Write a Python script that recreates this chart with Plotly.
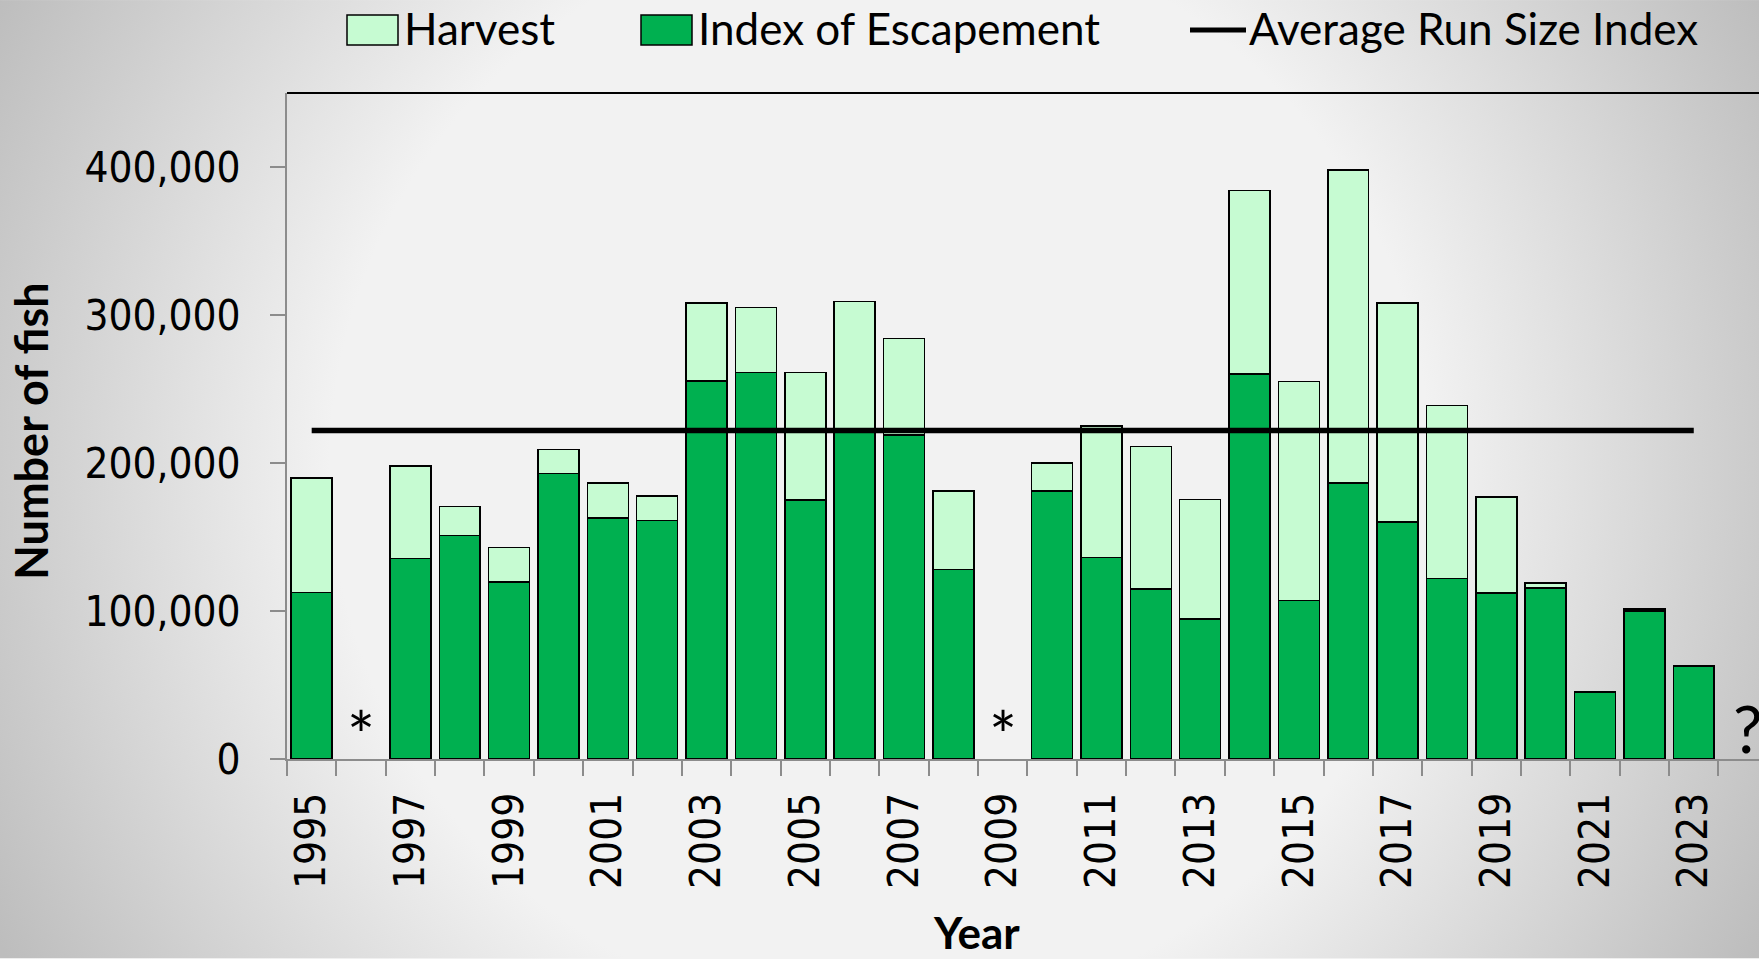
import base64
import plotly.graph_objects as go

# ---------------- data ----------------
years = list(range(1995, 2025))
escapement = [112400, None, 135500, 151000, 119500, 193000, 163000, 161000, 255500, 261000,
              175000, 223000, 219000, 128000, None, 181000, 136000, 115000, 94500, 260000,
              107000, 186500, 160000, 122000, 112000, 115500, 44800, 100000, 62700, None]
harvest = [77600, None, 62500, 19500, 23500, 16000, 23500, 16800, 52500, 44000,
           86000, 86000, 65000, 53000, None, 19000, 89000, 96000, 81000, 124000,
           148000, 211500, 148000, 117000, 65000, 3500, 700, 1200, 600, None]
avg_line_years = [1995, 2023]
avg_line_values = [222000, 222000]
label_years = list(range(1995, 2024, 2))
y_ticks = [0, 100000, 200000, 300000, 400000]
missing_marks = [(1996, "*"), (2009, "*")]
unknown_year = 2024

# ---------------- geometry (px) ----------------
W, H = 1759, 959
ML, MR, MT, MB = 287, 0, 93, 199.5
PW = W - ML - MR
PH = H - MT - MB


def px_x(px):
    return (px - ML) / PW


def px_y(py):
    return (H - MB - py) / PH


DARK = "#00B050"
LIGHT = "#C6FBD2"
AXIS_GRAY = "#8c8c8c"
TICK_FONT = "DejaVu Sans Condensed, DejaVu Sans, sans-serif"
TEXT_FONT = "Lato, Open Sans, sans-serif"

fig = go.Figure()
fig.add_trace(go.Bar(x=years, y=escapement, name="Index of Escapement", width=0.83,
                     marker=dict(color=DARK, line=dict(color="black", width=1.5)),
                     showlegend=False))
fig.add_trace(go.Bar(x=years, y=harvest, name="Harvest", width=0.83,
                     marker=dict(color=LIGHT, line=dict(color="black", width=1.5)),
                     showlegend=False))
fig.add_trace(go.Scatter(x=avg_line_years, y=avg_line_values, mode="lines",
                         name="Average Run Size Index",
                         line=dict(color="black", width=5.5), showlegend=False))

boundaries = [y - 0.5 for y in years] + [years[-1] + 0.5]

fig.update_xaxes(
    range=[years[0] - 0.5, years[0] - 0.5 + PW / 49.36],
    tickmode="array", tickvals=label_years, ticktext=[str(y) for y in label_years],
    tickangle=-90, ticks="outside", ticklen=15, tickcolor="rgba(0,0,0,0)",
    ticklabelstandoff=0,
    minor=dict(tickmode="array", tickvals=boundaries, ticks="outside", ticklen=15,
               tickcolor=AXIS_GRAY, tickwidth=1.5),
    showline=True, linecolor=AXIS_GRAY, linewidth=2,
    showgrid=False, zeroline=False,
    tickfont=dict(family=TICK_FONT, size=42, color="black"),
)
fig.update_yaxes(
    range=[0, 450000], tickmode="array", tickvals=y_ticks,
    ticktext=[f"{v:,}" for v in y_ticks],
    ticks="outside", ticklen=15, tickcolor=AXIS_GRAY, tickwidth=1.5,
    ticklabelstandoff=21,
    showline=True, linecolor=AXIS_GRAY, linewidth=2,
    showgrid=False, zeroline=False,
    tickfont=dict(family=TICK_FONT, size=42, color="black"),
)

# background gradient
svg = (f'<svg xmlns="http://www.w3.org/2000/svg" width="{W}" height="{H}">'
       '<defs><radialGradient id="g" gradientUnits="userSpaceOnUse" cx="880" cy="470" r="1000">'
       '<stop offset="0.55" stop-color="#f2f2f2"/><stop offset="0.88" stop-color="#cbcbcb"/>'
       '<stop offset="1" stop-color="#bdbdbd"/></radialGradient></defs>'
       f'<rect width="{W}" height="{H}" fill="url(#g)"/></svg>')
src = "data:image/svg+xml;base64," + base64.b64encode(svg.encode()).decode()
fig.add_layout_image(source=src, xref="paper", yref="paper", x=px_x(0), y=px_y(0),
                     sizex=W / PW, sizey=H / PH, xanchor="left", yanchor="top",
                     sizing="stretch", layer="below")

shapes = [
    dict(type="line", xref="paper", yref="paper", x0=0, x1=1, y0=1, y1=1,
         line=dict(color="black", width=2)),
    # legend symbols
    dict(type="rect", xref="paper", yref="paper", x0=px_x(347), x1=px_x(398),
         y0=px_y(45), y1=px_y(15), fillcolor=LIGHT, line=dict(color="black", width=1.5)),
    dict(type="rect", xref="paper", yref="paper", x0=px_x(641), x1=px_x(692),
         y0=px_y(45), y1=px_y(15), fillcolor=DARK, line=dict(color="black", width=1.5)),
    dict(type="line", xref="paper", yref="paper", x0=px_x(1190), x1=px_x(1246),
         y0=px_y(30), y1=px_y(30), line=dict(color="black", width=5)),
]
fig.update_layout(shapes=shapes)

ann = []
for txt, xpx in [("Harvest", 402), ("Index of Escapement", 696), ("Average Run Size Index", 1247)]:
    ann.append(dict(text=txt, xref="paper", yref="paper", x=px_x(xpx), y=px_y(27.5),
                    xanchor="left", yanchor="middle", showarrow=False,
                    font=dict(family=TEXT_FONT, size=44, color="black")))
for yr, mark in missing_marks:
    ann.append(dict(text=mark, x=yr, y=16500, xref="x", yref="y", showarrow=False,
                    xanchor="center", yanchor="middle",
                    font=dict(family=TEXT_FONT, size=66, color="black")))
ann.append(dict(text="?", x=unknown_year - 0.24, y=0, xref="x", yref="y", showarrow=False,
                xanchor="left", yanchor="bottom", yshift=-10,
                font=dict(family=TEXT_FONT, size=66, color="black")))
ann.append(dict(text="<b>Number of fish</b>", xref="paper", yref="paper", x=px_x(31),
                y=px_y(432), xanchor="center", yanchor="middle", textangle=-90,
                showarrow=False, font=dict(family=TEXT_FONT, size=45, color="black")))
ann.append(dict(text="<b>Year</b>", xref="paper", yref="paper", x=px_x(976),
                y=px_y(933), xanchor="center", yanchor="middle",
                showarrow=False, font=dict(family=TEXT_FONT, size=44, color="black")))
fig.update_layout(annotations=ann)

fig.update_layout(
    width=W, height=H, autosize=False,
    margin=dict(l=ML, r=MR, t=MT, b=MB, pad=0),
    barmode="stack", bargap=0.17,
    paper_bgcolor="#f2f2f2", plot_bgcolor="rgba(0,0,0,0)",
    showlegend=False,
)

fig.write_html("out.html", config={"displayModeBar": False},
               post_script="document.body.style.margin='0';document.body.style.overflow='hidden';")
